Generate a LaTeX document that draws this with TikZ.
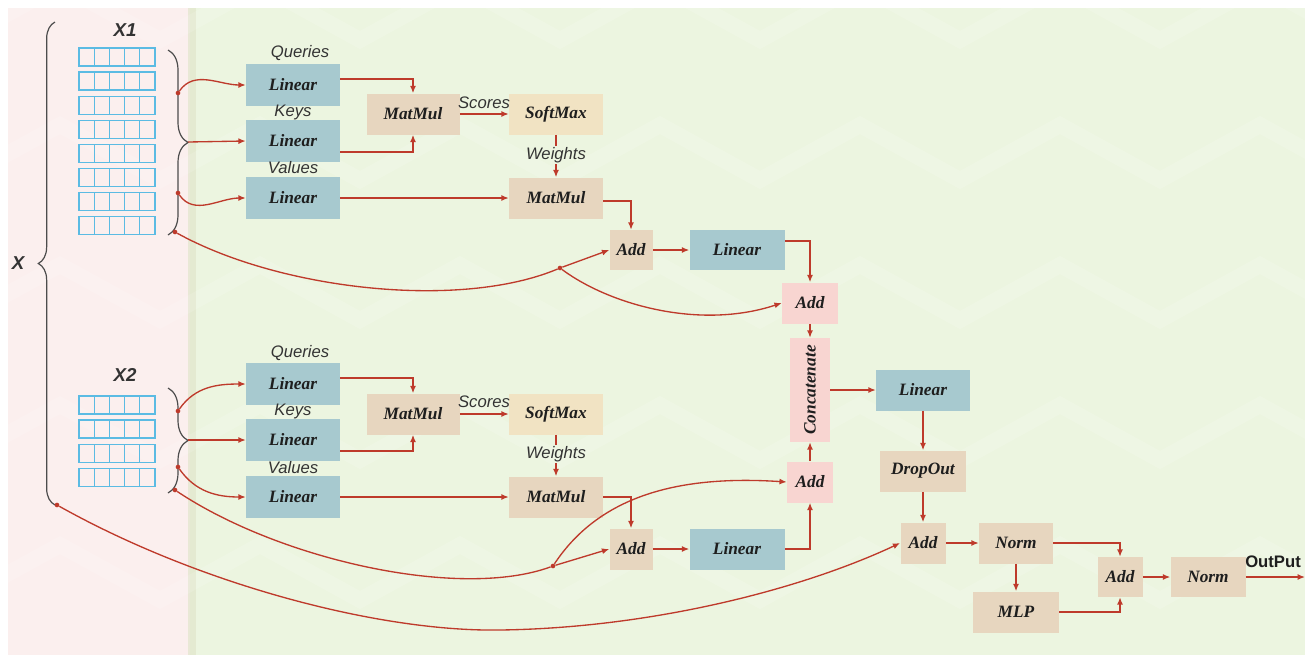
\documentclass[tikz,border=0pt]{standalone}
\usepackage{fontspec}
\setmainfont{Liberation Serif}
\setsansfont{Liberation Sans}
\usetikzlibrary{arrows.meta,decorations.pathreplacing,calc}

\definecolor{bgpink}{HTML}{FBEFEE}
\definecolor{bggreen}{HTML}{ECF5E0}
\definecolor{stripcol}{HTML}{E2E6CC}
\definecolor{linblue}{HTML}{A7C9CF}
\definecolor{tanbox}{HTML}{E7D6BF}
\definecolor{softbox}{HTML}{F1E3C3}
\definecolor{addpink}{HTML}{F8D5D1}
\definecolor{wirered}{HTML}{BE3A2B}
\definecolor{cellblue}{HTML}{5BBBE3}
\definecolor{ink}{HTML}{1E1E1E}
\definecolor{lbl}{HTML}{333333}

\tikzset{
  box/.style={inner sep=0pt, font=\bfseries\itshape\fontsize{13}{15}\selectfont, text=ink},
  sz/.style 2 args={minimum width=#1*0.75pt, minimum height=#2*0.75pt},
  lin/.style={box, fill=linblue},
  op/.style={box, fill=tanbox},
  sm/.style={box, fill=softbox},
  pk/.style={box, fill=addpink},
  lab/.style={font=\sffamily\itshape\fontsize{12.5}{14}\selectfont, text=lbl, inner sep=1pt},
  head/.style={font=\sffamily\bfseries\itshape\fontsize{14}{16}\selectfont, text=lbl, inner sep=0pt},
  arr/.style={draw=wirered, line width=1pt, -{Latex[length=5.5pt,width=4.5pt]}},
  plain/.style={draw=wirered, line width=1pt},
  dot/.style={circle, fill=wirered, inner sep=0pt, minimum size=3.5pt},
  cell/.style={draw=cellblue, line width=1pt},
  bracebig/.style={draw=black!70, line width=0.9pt, decorate, decoration={brace, amplitude=12.5pt}},
  bracesmall/.style={draw=black!70, line width=0.9pt, decorate, decoration={brace, amplitude=15pt}},
  zig/.style={draw=white, line width=12pt, opacity=0.13, line join=miter}
}

\begin{document}
\begin{tikzpicture}[x=0.75pt, y=-0.75pt]
\useasboundingbox (0,0) rectangle (1312,661);

% backdrop panels
\fill[white] (0,0) rectangle (1312,661);
\fill[bgpink] (8,8) rectangle (190,655);
\fill[bggreen] (190,8) rectangle (1305,655);
\fill[stripcol, opacity=0.7] (188,8) rectangle (196,655);
\begin{scope}
  \clip (8,8) rectangle (1305,655);
  \foreach \yy in {40,180,320,460,600} {
    \draw[zig] (-40,\yy) \foreach \k in {0,...,7} { -- ({\k*200+60},{\yy-55}) -- ({\k*200+160},\yy) };
  }
\end{scope}

% token grids
\foreach \r in {0,...,7} {
  \foreach \c in {0,...,4} {
    \draw[cell] ({79+\c*15.2},{48+\r*24.1}) rectangle ++(15.2,18);
  }
}
\foreach \r in {0,...,3} {
  \foreach \c in {0,...,4} {
    \draw[cell] ({79+\c*15.2},{396+\r*24.1}) rectangle ++(15.2,18);
  }
}

% braces
\draw[bracesmall] (168,50) -- (168,235);
\draw[bracesmall] (168,388) -- (168,493);
\draw[bracebig] (55,505) -- (55,22);

% headings
\node[head] (hx1) at (125,30) {X1};
\node[head] (hx2) at (125,375) {X2};
\node[head] (hx) at (18,263) {X};

% split points on the braces
\coordinate (t1) at (188,142);
\coordinate (t2) at (188,440);
\node[dot] (a1) at (178,93) {};
\node[dot] (a2) at (178,193) {};
\node[dot] (a3) at (175,232) {};
\node[dot] (b1) at (178,411) {};
\node[dot] (b2) at (178,467) {};
\node[dot] (b3) at (175,490) {};
\node[dot] (xs) at (57,505) {};

% upper attention head
\node[lin, sz={94}{42}] (q1) at (293,85) {Linear};
\node[lin, sz={94}{42}] (k1) at (293,141) {Linear};
\node[lin, sz={94}{42}] (v1) at (293,198) {Linear};
\node[lab] (lq1) at (300,53) {Queries};
\node[lab] (lk1) at (293,112) {Keys};
\node[lab] (lv1) at (293,168) {Values};
\node[op, sz={93}{41}] (mm1) at (413,114) {MatMul};
\node[sm, sz={94}{41}] (sm1) at (556,114) {SoftMax};
\node[lab] (ls1) at (484,103) {Scores};
\node[lab] (lw1) at (556,155) {Weights};
\node[op, sz={94}{41}] (mv1) at (556,198) {MatMul};
\node[op, sz={43}{40}] (ad1) at (631,250) {Add};
\node[lin, sz={95}{40}] (o1) at (737,250) {Linear};
\node[pk, sz={56}{41}] (pa1) at (810,303) {Add};

% lower attention head
\node[lin, sz={94}{42}] (q2) at (293,384) {Linear};
\node[lin, sz={94}{42}] (k2) at (293,440) {Linear};
\node[lin, sz={94}{42}] (v2) at (293,497) {Linear};
\node[lab] (lq2) at (300,353) {Queries};
\node[lab] (lk2) at (293,411) {Keys};
\node[lab] (lv2) at (293,468) {Values};
\node[op, sz={93}{41}] (mm2) at (413,414) {MatMul};
\node[sm, sz={94}{41}] (sm2) at (556,414) {SoftMax};
\node[lab] (ls2) at (484,402) {Scores};
\node[lab] (lw2) at (556,454) {Weights};
\node[op, sz={94}{41}] (mv2) at (556,497) {MatMul};
\node[op, sz={43}{41}] (ad2) at (631,549) {Add};
\node[lin, sz={95}{41}] (o2) at (737,549) {Linear};
\node[pk, sz={46}{41}] (pa2) at (810,482) {Add};

% merge and output block
\node[pk, sz={40}{104}] (cc) at (810,390) {};
\node[box, rotate=90] (cct) at (cc) {Concatenate};
\node[lin, sz={94}{41}] (lf) at (923,390) {Linear};
\node[op, sz={86}{41}] (dr) at (923,471) {DropOut};
\node[op, sz={45}{41}] (ad3) at (923,543) {Add};
\node[op, sz={74}{41}] (n1) at (1016,543) {Norm};
\node[op, sz={86}{41}] (mlp) at (1016,612) {MLP};
\node[op, sz={45}{40}] (ad4) at (1120,577) {Add};
\node[op, sz={75}{40}] (n2) at (1208,577) {Norm};
\node[font=\sffamily\bfseries\fontsize{12.5}{14}\selectfont, text=ink, inner sep=0pt] (lo) at (1273,562) {OutPut};
\coordinate (out) at (1305,577);

% upper head wiring
\draw[arr] (a1) to[out=55, in=180] (q1.west);
\draw[arr] (t1) -- (k1.west);
\draw[arr] (a2) to[out=-55, in=180] (v1.west);
\draw[arr] ($(q1.east)+(0,-6)$) -| (mm1.north);
\draw[arr] ($(k1.east)+(0,11)$) -| (mm1.south);
\draw[arr] (mm1.east) -- (sm1.west);
\draw[plain] (sm1.south) -- (lw1.north);
\draw[arr] (lw1.south) -- (mv1.north);
\draw[arr] (v1.east |- mv1.west) -- (mv1.west);
\draw[arr] ($(mv1.east)+(0,3)$) -| (ad1.north);
\draw[arr] (ad1.east) -- (o1.west);
\draw[arr] ($(o1.east)+(0,-9)$) -| (pa1.north);
\node[dot] (m1) at (560,268) {};
\draw[plain] (a3) .. controls (280,290) and (460,310) .. (m1);
\draw[arr] (m1) -- (ad1.west);
\draw[arr] (m1) .. controls (610,305) and (700,330) .. (pa1.west);

% lower head wiring
\draw[arr] (b1) to[out=55, in=180] (q2.west);
\draw[arr] (t2) -- (k2.west);
\draw[arr] (b2) to[out=-55, in=180] (v2.west);
\draw[arr] ($(q2.east)+(0,-6)$) -| (mm2.north);
\draw[arr] ($(k2.east)+(0,11)$) -| (mm2.south);
\draw[arr] (mm2.east) -- (sm2.west);
\draw[plain] (sm2.south) -- (lw2.north);
\draw[arr] (lw2.south) -- (mv2.north);
\draw[arr] (v2.east) -- (mv2.west);
\draw[arr] (mv2.east) -| (ad2.north);
\draw[arr] (ad2.east) -- (o2.west);
\draw[arr] (o2.east) -| (pa2.south);
\node[dot] (m2) at (553,566) {};
\draw[plain] (b3) .. controls (280,560) and (460,600) .. (m2);
\draw[arr] (m2) -- (ad2.west);
\draw[arr] (m2) .. controls (600,495) and (680,475) .. (pa2.west);

% merge and output wiring
\draw[arr] (pa1.south) -- (cc.north);
\draw[arr] (pa2.north) -- (cc.south);
\draw[arr] (cc.east) -- (lf.west);
\draw[arr] (lf.south) -- (dr.north);
\draw[arr] (dr.south) -- (ad3.north);
\draw[arr] (xs) .. controls (200,585) and (380,632) .. (500,630) .. controls (650,628) and (800,590) .. (ad3.west);
\draw[arr] (ad3.east) -- (n1.west);
\draw[arr] (n1.south) -- (mlp.north);
\draw[arr] (n1.east) -| (ad4.north);
\draw[arr] (mlp.east) -| (ad4.south);
\draw[arr] (ad4.east) -- (n2.west);
\draw[arr] (n2.east) -- (out);
\end{tikzpicture}
\end{document}
